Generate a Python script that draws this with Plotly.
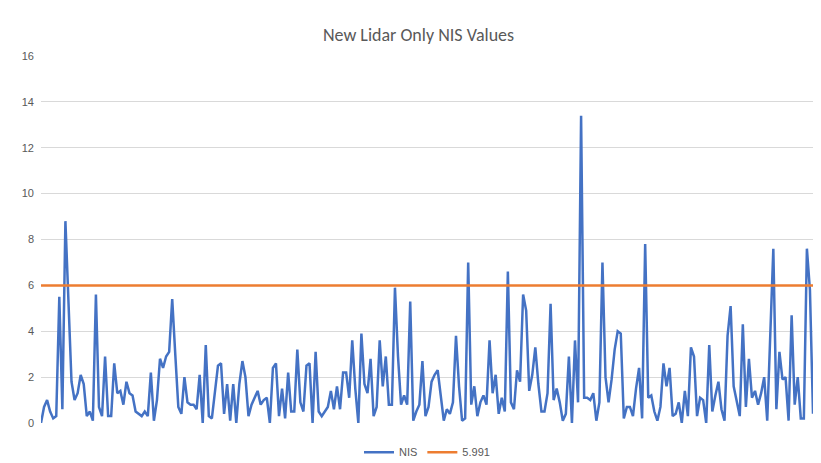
import plotly.graph_objs as go

nis_a = [0, 0.7, 1.0, 0.5, 0.2, 0.3, 5.5, 0.6, 8.8, 5.6, 1.8, 1.0, 1.3, 2.1, 1.7, 0.3,
         0.5, 0.1, 5.6, 0.7, 0.3, 2.9, 0.3, 0.3, 2.6, 1.3, 1.4, 0.8, 1.8, 1.3, 1.2, 0.5,
         0.4, 0.3, 0.5, 0.3, 2.2, 0.1, 1.0, 2.8, 2.4, 2.9, 3.1, 5.4, 3.0, 0.7, 0.4, 2.0,
         0.9, 0.8, 0.8, 0.6, 2.1, 0, 3.4, 0.3, 0.2, 1.5, 2.5, 2.6, 0.4, 1.7, 0.1]
nis_b = [1.7, 0, 1.7, 2.7, 2.0, 0.3, 0.8, 1.1, 1.4, 0.8, 1.0, 1.1, 0, 2.4, 2.6, 0.3,
         1.5, 0.2, 2.2, 0.5, 0.5, 3.2, 0.9, 0.5, 2.5, 2.6, 0, 3.1, 0.5, 0.3, 0.5, 0.7,
         1.4, 0.6, 1.6, 0.6, 2.2, 2.2, 1.1, 3.6, 1.5, 0, 3.9, 1.7, 1.3, 2.8, 0.3, 0.7,
         3.6, 1.6, 2.9, 0.8, 0.8, 5.9, 2.9, 0.8, 1.2, 0.8, 5.3, 0.1, 0.5, 0.8, 2.7,
         0.3, 0.7, 1.8]
nis_c = [2.1, 2.3, 1.2, 0.1, 0.6, 0.4, 0.9, 3.8, 1.6, 0.1, 0.2, 7.0, 0.8, 1.6, 0.3,
         0.9, 1.2, 0.8, 3.6, 1.3, 2.1, 0.4, 1.1, 0.5, 6.6, 0.9, 0.6, 2.3, 1.8, 5.6, 4.9,
         1.4, 2.1, 3.3, 1.7, 0.5, 0.5, 1.3, 5.2, 1.0, 1.5, 0.9, 0.1, 0.4, 2.9, 0, 3.6,
         0.9, 13.4, 1.1, 1.1, 1.0, 1.3, 0.1, 0.9, 7.0, 2.0, 0.9, 1.9, 3.2, 4.0, 3.9]
nis_d = [0.2, 0.7, 0.7, 0.3, 1.5, 2.4, 0.2, 7.8, 1.1, 1.2, 0.5, 0.1, 0.7, 2.6, 1.6,
         2.4, 0.3, 0.4, 0.9, 0, 1.4, 0.3, 3.3, 2.9, 0.3, 1.1, 1.0, 0, 3.4, 0.5, 1.2,
         1.8, 0.6, 0.1, 3.8, 5.1, 1.6, 0.9, 0.3, 4.3, 0.7, 2.8, 1.1, 1.4, 0.8, 1.3, 2.0,
         0.1, 3.7, 7.6, 0.6, 3.1, 1.9, 2.0, 0.1, 4.7, 0.8, 2.0, 0.2, 0.2, 7.6, 5.8, 0.4]
nis = nis_a + nis_b + nis_c + nis_d
threshold = 5.991
steps = list(range(1, len(nis) + 1))

data = [
    go.Scatter(x=steps, y=nis, mode="lines", name="NIS",
               line=dict(color="#4472C4", width=2.5)),
    go.Scatter(x=steps, y=[threshold] * len(steps), mode="lines", name="5.991",
               line=dict(color="#ED7D31", width=2.5)),
]

layout = go.Layout(
    title=dict(text="New Lidar Only NIS Values", x=0.5, y=0.955,
               font=dict(family="Calibri, Carlito, Liberation Sans", size=18, color="#595959")),
    width=821, height=463,
    paper_bgcolor="white", plot_bgcolor="white",
    margin=dict(l=33, r=16, t=48, b=48, autoexpand=False),
    font=dict(family="Liberation Sans", size=11, color="#595959"),
    xaxis=dict(showticklabels=False, showgrid=False, zeroline=False,
               range=[1, len(nis)], showline=False, automargin=False),
    yaxis=dict(range=[0, 16], dtick=2, gridcolor="#D9D9D9", zeroline=False,
               ticks="", automargin=False, ticklabelstandoff=6,
               tickfont=dict(size=11, color="#595959")),
    legend=dict(orientation="h", x=0.5, xanchor="center", y=-0.04, yanchor="top",
                font=dict(size=11, color="#595959")),
)

fig = go.Figure(data=data, layout=layout)
fig.write_html("out.html")
